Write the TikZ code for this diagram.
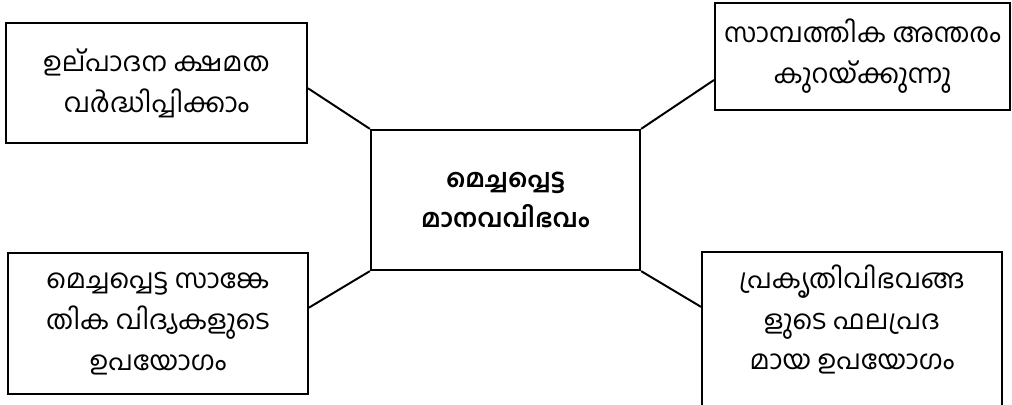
\documentclass[tikz,border=0pt]{standalone}
\usepackage{fontspec}
\usepackage{tikz}
\newfontfamily\mlfont[Script=Malayalam]{Hind Kochi}

\begin{document}
\begin{tikzpicture}[
  x=0.025cm, y=-0.025cm,
  font=\mlfont\fontsize{19}{29}\selectfont,
  ideabox/.style={rectangle, draw=black, line width=1.4pt, align=center, inner sep=0pt},
  corebox/.style={rectangle, draw=black, line width=1.6pt, align=center, inner sep=0pt,
                  font=\mlfont\bfseries\fontsize{18}{28}\selectfont},
  link/.style={line width=1.4pt},
]
\useasboundingbox (0,0) rectangle (1012,405);

%% ===== Centre =====
\node[corebox, minimum width=269*0.025cm, minimum height=140*0.025cm] (core) at (505.5,200)
  {മെച്ചപ്പെട്ട\\മാനവവിഭവം};

%% ===== Outer boxes =====
\node[ideabox, minimum width=301*0.025cm, minimum height=120*0.025cm] (tl) at (156.5,83)
  {ഉല്പാദന ക്ഷമത\\വർദ്ധിപ്പിക്കാം};

\node[ideabox, minimum width=295*0.025cm, minimum height=107*0.025cm] (tr) at (862.5,56.5)
  {സാമ്പത്തിക അന്തരം\\കുറയ്ക്കുന്നു};

\node[ideabox, minimum width=300*0.025cm, minimum height=141*0.025cm] (bl) at (158,323.5)
  {മെച്ചപ്പെട്ട സാങ്കേ\\തിക വിദ്യകളുടെ\\ഉപയോഗം};

% box runs off the bottom edge, text sits higher than its middle
\node[ideabox, minimum width=300*0.025cm, minimum height=163*0.025cm] (br) at (852,333.5)
  {\raisebox{0.16cm}[0pt][0pt]{\begin{tabular}{@{}c@{}}
   പ്രകൃതിവിഭവങ്ങ\\ളുടെ ഫലപ്രദ\\മായ ഉപയോഗം\end{tabular}}};

%% ===== Links =====
\draw[link] (tl.-2) -- (core.north west);
\draw[link] (core.north east) -- (tr.189);
\draw[link] (core.south west) -- (bl.6);
\draw[link] (core.south east) -- (br.170);

\end{tikzpicture}
\end{document}
